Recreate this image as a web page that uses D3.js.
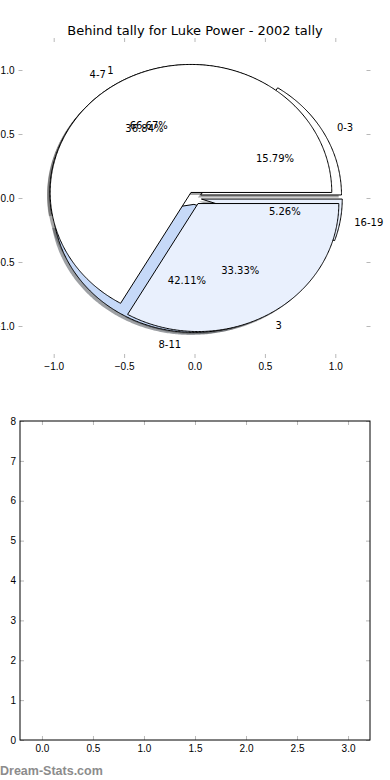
<!DOCTYPE html>
<html lang="en">
<head>
<meta charset="UTF-8">
<title>Behind tally for Luke Power - 2002 tally</title>
<script src="https://d3js.org/d3.v7.min.js"></script>
<style>
  body { margin: 0; background: #fff; }
  svg { display: block; font-family: "DejaVu Sans", sans-serif; }
  .tick line { stroke: #b8b8b8; }
  .tick text { font-size: 10px; fill: #000; }
</style>
</head>
<body>
<div id="chart"></div>
<script>
// two pies drawn on the same axes
const bandLabels = ["0-3", "4-7", "8-11", "16-19"];
const bandValues = [3, 7, 8, 1];
const bandExplode = [0.05, 0.05, 0.05, 0.05];
const bandColors = ["#ffffff", "#ffffff", "#c6d9f8", "#e9f0fd"];

const behindLabels = ["1", "3"];
const behindValues = [2, 1];
const behindExplode = [0.05, 0.05];
const behindColors = ["#ffffff", "#e9f0fd"];

const pieTicks = [-1.0, -0.5, 0.0, 0.5, 1.0];
const lowerXTicks = [0, 0.5, 1, 1.5, 2, 2.5, 3];
const lowerYTicks = [0, 1, 2, 3, 4, 5, 6, 7, 8];

const W = 390, H = 780;
const svg = d3.select("#chart").append("svg")
  .attr("width", W).attr("height", H);

// pie axes (matplotlib style, no frame, aspect not equal)
const px = d3.scaleLinear().domain([-1.25, 1.25]).range([18.5, 370.5]);
const py = d3.scaleLinear().domain([-1.25, 1.25]).range([358, 38]);

svg.append("text")
  .attr("x", 195).attr("y", 34.5)
  .attr("text-anchor", "middle")
  .style("font-size", "13px")
  .text("Behind tally for Luke Power - 2002 tally");

function tickAxes(g, x, y, fmt, frame) {
  const [x0, x1] = x.range(), [y0, y1] = y.range();
  g.append("g").attr("transform", `translate(0,${y0})`)
    .call(d3.axisBottom(x).tickValues(fmt.xt).tickSize(-4).tickPadding(5).tickFormat(fmt.xf));
  g.append("g").attr("transform", `translate(0,${y1})`)
    .call(d3.axisTop(x).tickValues(fmt.xt).tickSize(-4).tickFormat(""));
  g.append("g").attr("transform", `translate(${x0},0)`)
    .call(d3.axisLeft(y).tickValues(fmt.yt).tickSize(-4).tickPadding(4).tickFormat(fmt.yf));
  g.append("g").attr("transform", `translate(${x1},0)`)
    .call(d3.axisRight(y).tickValues(fmt.yt).tickSize(-4).tickFormat(""));
  g.selectAll(".domain").remove();
  if (frame) {
    g.append("rect")
      .attr("x", x0).attr("y", y1)
      .attr("width", x1 - x0).attr("height", y0 - y1)
      .attr("fill", "none").attr("stroke", "#000").attr("stroke-width", 1);
  }
}

const f1 = d3.format(".1f");
tickAxes(svg.append("g"), px, py, {xt: pieTicks, yt: pieTicks, xf: f1, yf: f1}, false);

const pieGen = d3.pie().sort(null).startAngle(0).endAngle(2 * Math.PI);
const line = d3.line().x(d => px(d[0])).y(d => py(d[1]));

// angles are taken counter-clockwise from the x axis like matplotlib
function wedges(values, labels, explode, colors) {
  return pieGen(values).map((a, i) => {
    const mid = (a.startAngle + a.endAngle) / 2;
    const e = explode[i];
    return {
      a0: a.startAngle, a1: a.endAngle, mid,
      cx: e * Math.cos(mid), cy: e * Math.sin(mid),
      label: labels[i], color: colors[i],
      pct: (a.value / d3.sum(values) * 100).toFixed(2) + "%"
    };
  });
}

function wedgePts(w, ox, oy) {
  const n = Math.max(8, Math.ceil((w.a1 - w.a0) / 0.01));
  const pts = [[w.cx + ox, w.cy + oy]];
  for (let k = 0; k <= n; k++) {
    const t = w.a0 + (w.a1 - w.a0) * k / n;
    pts.push([w.cx + ox + Math.cos(t), w.cy + oy + Math.sin(t)]);
  }
  pts.push([w.cx + ox, w.cy + oy]);
  return pts;
}

const pieA = wedges(bandValues, bandLabels, bandExplode, bandColors);
const pieB = wedges(behindValues, behindLabels, behindExplode, behindColors);
const all = pieA.concat(pieB);

// shadows first, under every wedge
svg.append("g").selectAll("path").data(all).join("path")
  .attr("d", d => line(wedgePts(d, -0.02, -0.02)) + "Z")
  .attr("fill", d => d3.rgb(d.color).darker(0).copy({r: d3.rgb(d.color).r * 0.3, g: d3.rgb(d.color).g * 0.3, b: d3.rgb(d.color).b * 0.3}))
  .attr("stroke", "none")
  .attr("opacity", 0.5);

svg.append("g").selectAll("path").data(all).join("path")
  .attr("d", d => line(wedgePts(d, 0, 0)) + "Z")
  .attr("fill", d => d.color)
  .attr("stroke", "#000")
  .attr("stroke-width", 1)
  .attr("stroke-linejoin", "round");

function pieText(ws) {
  const g = svg.append("g").style("font-size", "10px");
  ws.forEach(w => {
    const lx = w.cx + 1.1 * Math.cos(w.mid), ly = w.cy + 1.1 * Math.sin(w.mid);
    g.append("text")
      .attr("x", px(lx)).attr("y", py(ly)).attr("dy", "0.35em")
      .attr("text-anchor", lx > 0 ? "start" : "end")
      .text(w.label);
    g.append("text")
      .attr("x", px(w.cx + 0.6 * Math.cos(w.mid))).attr("y", py(w.cy + 0.6 * Math.sin(w.mid)))
      .attr("dy", "0.35em").attr("text-anchor", "middle")
      .text(w.pct);
  });
}
pieText(pieA);
pieText(pieB);

// lower, empty axes
const bx = d3.scaleLinear().domain([-0.215, 3.215]).range([20, 370]);
const by = d3.scaleLinear().domain([0, 8]).range([740, 421]);
tickAxes(svg.append("g"), bx, by,
  {xt: lowerXTicks, yt: lowerYTicks, xf: f1, yf: d3.format("d")}, true);

svg.append("text")
  .attr("x", 0).attr("y", 775)
  .style("font-family", "'Liberation Sans', Arial, sans-serif")
  .style("font-size", "12.5px")
  .style("font-weight", "bold")
  .attr("fill", "#8c8c8c")
  .text("Dream-Stats.com");
</script>
</body>
</html>
